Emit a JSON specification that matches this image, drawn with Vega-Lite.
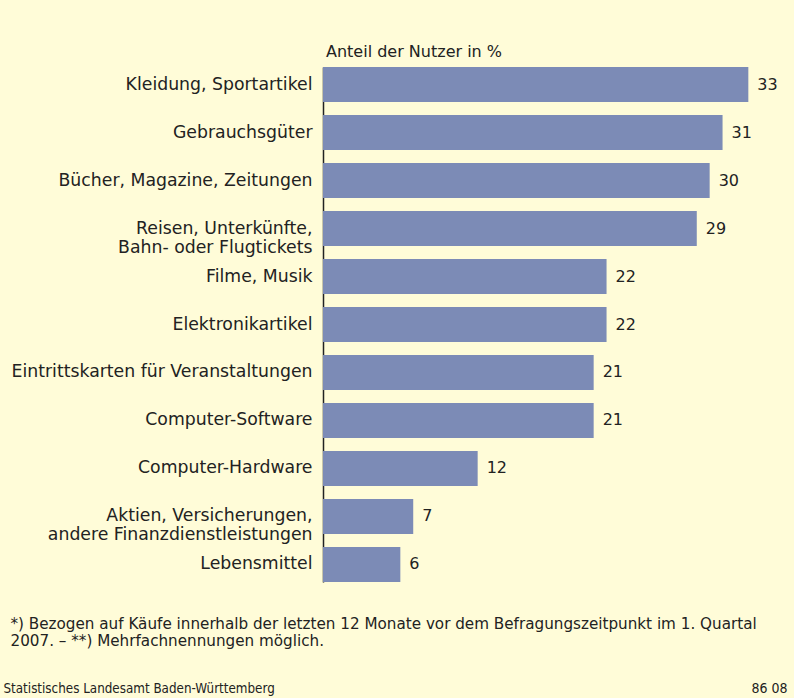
{
  "$schema": "https://vega.github.io/schema/vega-lite/v6.json",
  "width": 464,
  "height": 515,
  "autosize": {"type": "none"},
  "padding": {"left": 323, "top": 67, "right": 7, "bottom": 116},
  "background": "#FFFCD8",
  "title": {
    "text": "Anteil der Nutzer in %",
    "anchor": "start",
    "frame": "group",
    "offset": 7,
    "dx": 3,
    "font": "DejaVu Sans",
    "fontSize": 16,
    "fontWeight": "normal",
    "color": "#222222"
  },
  "data": {
    "values": [
      {"kategorie": "Kleidung, Sportartikel", "wert": 33},
      {"kategorie": "Gebrauchsgüter", "wert": 31},
      {"kategorie": "Bücher, Magazine, Zeitungen", "wert": 30},
      {"kategorie": "Reisen, Unterkünfte,|Bahn- oder Flugtickets", "wert": 29},
      {"kategorie": "Filme, Musik", "wert": 22},
      {"kategorie": "Elektronikartikel", "wert": 22},
      {"kategorie": "Eintrittskarten für Veranstaltungen", "wert": 21},
      {"kategorie": "Computer-Software", "wert": 21},
      {"kategorie": "Computer-Hardware", "wert": 12},
      {"kategorie": "Aktien, Versicherungen,|andere Finanzdienstleistungen", "wert": 7},
      {"kategorie": "Lebensmittel", "wert": 6}
    ]
  },
  "encoding": {
    "y": {
      "field": "kategorie",
      "type": "nominal",
      "sort": null,
      "scale": {"paddingInner": 0.27, "paddingOuter": 0}
    },
    "x": {
      "field": "wert",
      "type": "quantitative",
      "scale": {"domain": [0, 36], "nice": false, "zero": true}
    }
  },
  "layer": [
    {
      "mark": {"type": "bar", "color": "#7C8BB6"},
      "encoding": {
        "y": {
          "field": "kategorie",
          "type": "nominal",
          "sort": null,
          "axis": {
            "title": null,
            "orient": "left",
            "ticks": false,
            "grid": false,
            "domain": true,
            "domainColor": "#222222",
            "domainWidth": 1.5,
            "labelPadding": 11,
            "labelFont": "DejaVu Sans",
            "labelFontSize": 17.3,
            "labelColor": "#222222",
            "labelLimit": 400,
            "labelLineHeight": 19,
            "labelExpr": "split(datum.label, '|')"
          }
        },
        "x": {
          "field": "wert",
          "type": "quantitative",
          "axis": {
            "orient": "bottom",
            "labels": false,
            "ticks": false,
            "domain": false,
            "grid": false,
            "title": ["*) Bezogen auf Käufe innerhalb der letzten 12 Monate vor dem Befragungszeitpunkt im 1. Quartal", "2007. – **) Mehrfachnennungen möglich."],
            "titleFont": "DejaVu Sans",
            "titleFontSize": 15.2,
            "titleFontWeight": "normal",
            "titleColor": "#222222",
            "titleLineHeight": 17,
            "titleAlign": "left",
            "titleAnchor": "start",
            "titleBaseline": "alphabetic",
            "titleX": -313,
            "titleY": 46
          }
        }
      }
    },
    {
      "mark": {
        "type": "text",
        "align": "left",
        "baseline": "middle",
        "dx": 9,
        "font": "DejaVu Sans",
        "fontSize": 16,
        "color": "#222222"
      },
      "encoding": {
        "text": {"field": "wert", "type": "quantitative"},
        "y": {
          "field": "kategorie",
          "type": "nominal",
          "sort": null,
          "axis": {
            "orient": "right",
            "labels": false,
            "ticks": false,
            "domain": false,
            "grid": false,
            "title": "86 08",
            "titleAngle": 0,
            "titleFont": "DejaVu Sans Condensed",
            "titleFontSize": 14,
            "titleFontWeight": "normal",
            "titleColor": "#222222",
            "titleAlign": "right",
            "titleBaseline": "alphabetic",
            "titleX": 0,
            "titleY": 625
          }
        },
        "x": {
          "field": "wert",
          "type": "quantitative",
          "axis": {
            "orient": "top",
            "labels": false,
            "ticks": false,
            "domain": false,
            "grid": false,
            "title": "Statistisches Landesamt Baden-Württemberg",
            "titleFont": "DejaVu Sans Condensed",
            "titleFontSize": 13.3,
            "titleFontWeight": "normal",
            "titleColor": "#222222",
            "titleAlign": "left",
            "titleAnchor": "start",
            "titleBaseline": "alphabetic",
            "titleX": -320,
            "titleY": 625
          }
        }
      }
    }
  ],
  "resolve": {"axis": {"x": "independent", "y": "independent"}},
  "config": {"view": {"stroke": null}}
}
